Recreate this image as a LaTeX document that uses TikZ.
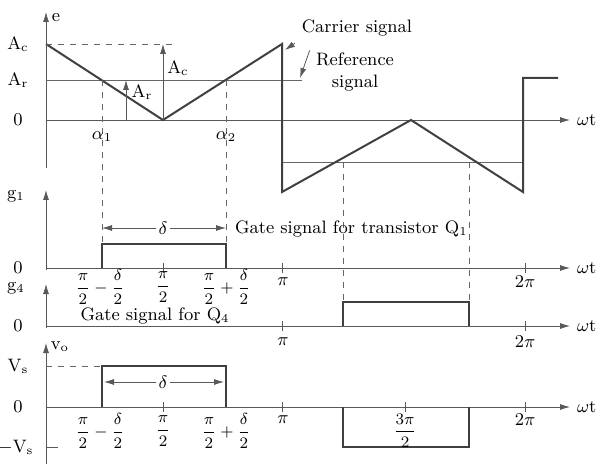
\documentclass[tikz,border=0pt]{standalone}
\usepackage{amsmath}
\usepackage{amssymb}
\usetikzlibrary{arrows.meta}

\begin{document}
\begin{tikzpicture}[x=0.5pt, y=-0.5pt, font=\small, >={Latex[length=5pt,width=3pt]}]
\tikzset{axis/.style={thin, color=black!65},
	wave/.style={line width=1pt, color=black!75},
	guide/.style={dashed, thin, color=black!60},
	refline/.style={thin, color=black!60},
	frac/.style={font=\footnotesize, inner sep=1pt}}
\useasboundingbox (0,0) rectangle (598,464);

% top plot: carrier and reference
	\draw[axis, ->] (46,168) -- (46,12);
	\node (elbl) at (56,18) {e};
	\draw[axis, ->] (46,120) -- (570,120) node[right, black] (wt1) {$\omega$t};
	\draw[refline] (46,80) -- (302,80);
	\draw[refline] (282,162) -- (523,162);
	\draw[wave] (46,44) -- (163,120) -- (282,44) -- (282,192) -- (411,120) -- (523,192) -- (523,78) -- (558,78);

	\draw[guide] (46,44) -- (172,44);
	\draw[guide] (102,80) -- (102,244);
	\draw[guide] (226,80) -- (226,244);
	\draw[guide] (343,162) -- (343,302);
	\draw[guide] (469,162) -- (469,302);

	\draw[axis, ->] (163,120) -- (163,44);
	\draw[axis, ->] (126,120) -- (126,80);
	\node (lblAc) at (178,68) {$\mathrm{A_c}$};
	\node (lblAr) at (142,92) {$\mathrm{A_r}$};

	\node (eAc) at (18,44) {$\mathrm{A_c}$};
	\node (eAr) at (18,80) {$\mathrm{A_r}$};
	\node (e0) at (18,120) {0};
	\node (alpha1) at (102,137) {$\alpha_1$};
	\node (alpha2) at (226,137) {$\alpha_2$};

	\node (carrierlbl) at (357,28) {Carrier signal};
	\node[align=center, inner sep=1pt] (reflbl) at (355,72) {Reference\\signal};
	\coordinate (cpeak) at (285,50);
	\coordinate (cref) at (300,78);
	\draw[axis, ->] (carrierlbl.south west) -- (cpeak);
	\draw[axis, ->] ([xshift=-2pt]reflbl.north west) -- (cref);

% gate signal g1
	\draw[axis, ->] (46,270) -- (46,190);
	\draw[axis, ->] (46,268) -- (570,268) node[right, black] (wt2) {$\omega$t};
	\draw[wave] (102,268) -- (102,244) -- (226,244) -- (226,268);
	\node[fill=white, inner sep=1pt] (delta1) at (163,228) {$\delta$};
	\draw[axis, ->] (delta1) -- (102,228);
	\draw[axis, ->] (delta1) -- (226,228);
	\node[anchor=west] (gate1) at (228,229) {Gate signal for transistor $\mathrm{Q_1}$};
	\foreach \x in {163,282,525}
		\draw[axis] (\x,263) -- (\x,273);
	\node (g1) at (16,196) {$\mathrm{g_1}$};
	\node (g10) at (18,268) {0};
	\node[frac] (t1a) at (100,287) {$\dfrac{\pi}{2}-\dfrac{\delta}{2}$};
	\node[frac] (t1b) at (163,287) {$\dfrac{\pi}{2}$};
	\node[frac] (t1c) at (226,287) {$\dfrac{\pi}{2}+\dfrac{\delta}{2}$};
	\node (t1d) at (283,282) {$\pi$};
	\node (t1e) at (525,282) {$2\pi$};

% gate signal g4
	\draw[axis, ->] (46,328) -- (46,284);
	\draw[axis, ->] (46,326) -- (570,326) node[right, black] (wt3) {$\omega$t};
	\draw[wave] (343,326) -- (343,302) -- (469,302) -- (469,326);
	\foreach \x in {282,525}
		\draw[axis] (\x,321) -- (\x,331);
	\node (g4) at (16,288) {$\mathrm{g_4}$};
	\node (g40) at (18,326) {0};
	\node[inner sep=0pt] (gate4) at (155,316) {Gate signal for $\mathrm{Q_4}$};
	\node (t4a) at (283,342) {$\pi$};
	\node (t4b) at (525,342) {$2\pi$};

% output voltage vo
	\draw[axis, ->] (46,465) -- (46,343);
	\node (vlbl) at (60,347) {$\mathrm{v_o}$};
	\draw[axis, ->] (46,407) -- (570,407) node[right, black] (wt4) {$\omega$t};
	\draw[guide] (46,366) -- (102,366);
	\draw[wave] (102,407) -- (102,366) -- (226,366) -- (226,407);
	\draw[wave] (343,407) -- (343,447) -- (469,447) -- (469,407);
	\draw[axis] (46,447) -- (58,447);
	\node[fill=white, inner sep=1pt] (delta2) at (163,382) {$\delta$};
	\draw[axis, ->] (delta2) -- (104,382);
	\draw[axis, ->] (delta2) -- (224,382);
	\foreach \x in {163,282,405,525}
		\draw[axis] (\x,402) -- (\x,412);
	\node (vs) at (18,366) {$\mathrm{V_s}$};
	\node (v0) at (18,407) {0};
	\node (mvs) at (16,447) {$-\mathrm{V_s}$};
	\node[frac] (to1) at (100,431) {$\dfrac{\pi}{2}-\dfrac{\delta}{2}$};
	\node[frac] (to2) at (163,431) {$\dfrac{\pi}{2}$};
	\node[frac] (to3) at (226,431) {$\dfrac{\pi}{2}+\dfrac{\delta}{2}$};
	\node (to4) at (283,420) {$\pi$};
	\node[frac] (to5) at (405,431) {$\dfrac{3\pi}{2}$};
	\node (to6) at (525,420) {$2\pi$};

\end{tikzpicture}
\end{document}
